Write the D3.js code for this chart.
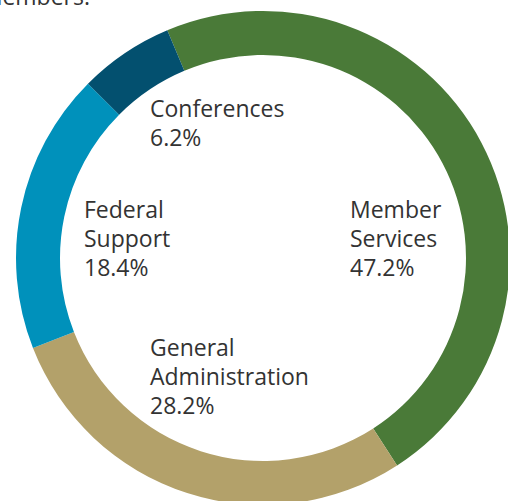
<!DOCTYPE html>
<html>
<head>
<meta charset="utf-8">
<script src="https://cdn.jsdelivr.net/npm/d3@7"></script>
<style>
  body { margin: 0; background: #fff; }
  svg text { font-family: "Open Sans", Lato, sans-serif; font-weight: 400; fill: #333; }
</style>
</head>
<body>
<div id="chart"></div>
<script>
const categories = ['Member Services', 'General Administration', 'Federal Support', 'Conferences'];
const shares = [47.2, 28.2, 18.4, 6.2];
const colors = ['#4a7a38', '#b3a16a', '#0091bb', '#03506f'];
// label text lines, one array per category
const labelLines = [
  ['Member', 'Services'],
  ['General', 'Administration'],
  ['Federal', 'Support'],
  ['Conferences']
];

const width = 508;
const height = 501;
const cx = 263;
const cy = 258;
const outerR = 247;
const innerR = 203;
const startDeg = -22.8;

const data = categories.map((c, i) => ({ label: c, value: shares[i], color: colors[i], lines: labelLines[i] }));

const svg = d3.select('#chart')
  .append('svg')
  .attr('width', width)
  .attr('height', height)
  .attr('viewBox', `0 0 ${width} ${height}`);

// tail of the sentence above the chart, cut off by the crop
svg.append('text')
  .attr('x', 90)
  .attr('y', 5)
  .attr('text-anchor', 'end')
  .style('font-size', '23px')
  .text('members.');

const pie = d3.pie()
  .sort(null)
  .value(d => d.value)
  .startAngle(startDeg * Math.PI / 180)
  .endAngle((startDeg + 360) * Math.PI / 180);

const arc = d3.arc()
  .innerRadius(innerR)
  .outerRadius(outerR);

const g = svg.append('g')
  .attr('transform', `translate(${cx}, ${cy})`);

g.selectAll('.slice')
  .data(pie(data))
  .join('path')
  .attr('class', 'slice')
  .attr('d', arc)
  .attr('fill', d => d.data.color);

// label anchors (baseline of first line), in page pixels
const labelPos = [
  { x: 350, y: 218 },
  { x: 150, y: 356 },
  { x: 84, y: 218 },
  { x: 150, y: 117 }
];
const lineGap = 29;

const labels = svg.selectAll('.slice-label')
  .data(data)
  .join('text')
  .attr('class', 'slice-label')
  .attr('x', (d, i) => labelPos[i].x)
  .attr('y', (d, i) => labelPos[i].y)
  .style('font-size', '23px');

labels.each(function(d, i) {
  const t = d3.select(this);
  d.lines.concat([d3.format('.1f')(d.value) + '%']).forEach((line, j) => {
    t.append('tspan')
      .attr('x', labelPos[i].x)
      .attr('y', labelPos[i].y + j * lineGap)
      .text(line);
  });
});
</script>
</body>
</html>
